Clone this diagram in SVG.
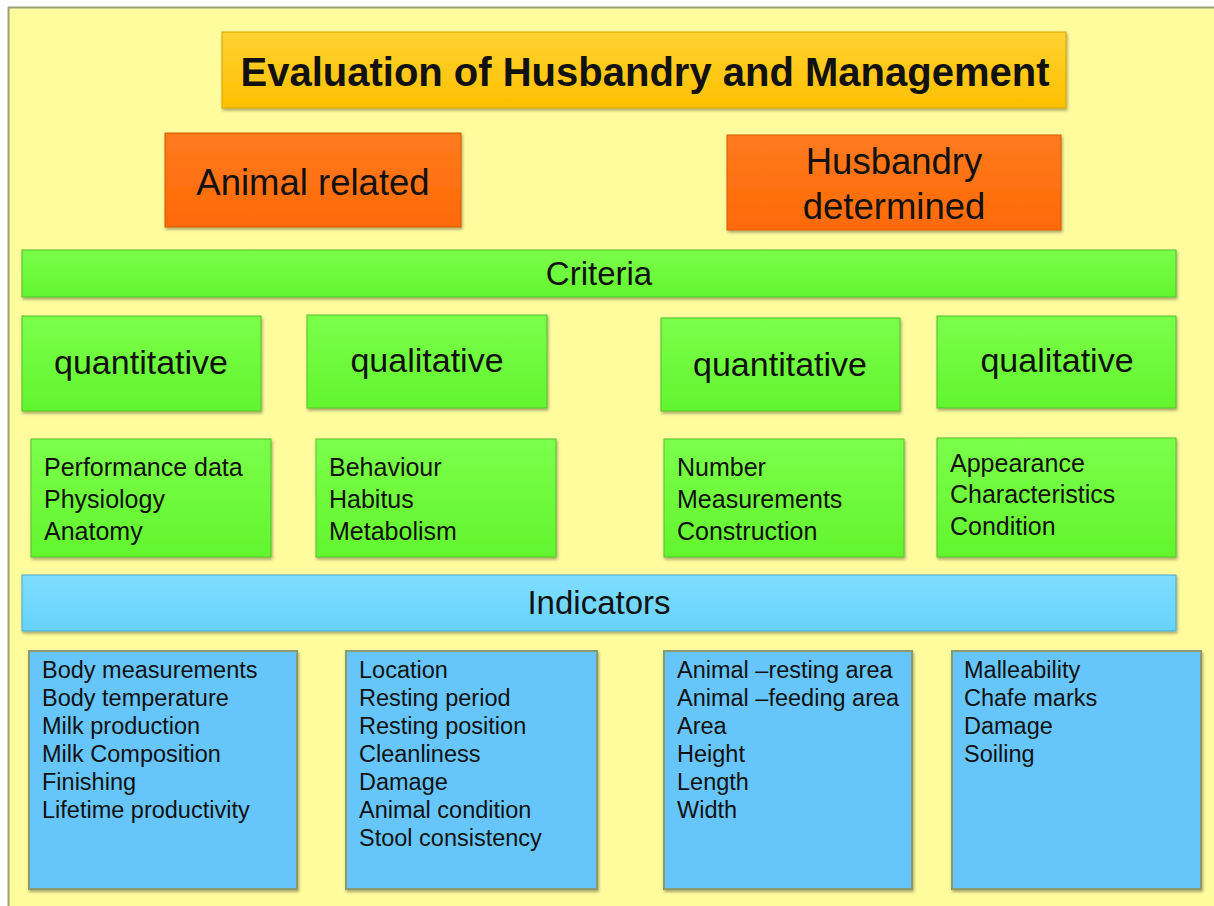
<svg xmlns="http://www.w3.org/2000/svg" width="1214" height="906" viewBox="0 0 1214 906">
<defs>
<linearGradient id="gGold" x1="0" y1="0" x2="0" y2="1"><stop offset="0" stop-color="#FFD233"/><stop offset="1" stop-color="#FFC000"/></linearGradient>
<linearGradient id="gOrange" x1="0" y1="0" x2="0" y2="1"><stop offset="0" stop-color="#FF7A1E"/><stop offset="1" stop-color="#FF6A08"/></linearGradient>
<linearGradient id="gGreen" x1="0" y1="0" x2="0" y2="1"><stop offset="0" stop-color="#7BFF4A"/><stop offset="1" stop-color="#62F52E"/></linearGradient>
<linearGradient id="gCyan" x1="0" y1="0" x2="0" y2="1"><stop offset="0" stop-color="#7FDDFF"/><stop offset="1" stop-color="#66D2FC"/></linearGradient>
<filter id="sh" x="-5%" y="-5%" width="110%" height="120%"><feDropShadow dx="1" dy="2" stdDeviation="1.5" flood-color="#000" flood-opacity="0.35"/></filter>
</defs>
<style>
text{font-family:"Liberation Sans",Arial,sans-serif;fill:#111;}
.title{font-size:40px;font-weight:bold;text-anchor:middle;}
.big{font-size:36.5px;text-anchor:middle;}
.bar{font-size:33px;text-anchor:middle;}
.cat{font-size:34px;text-anchor:middle;}
.item{font-size:25px;}
.ind{font-size:23.5px;}
.gold{fill:url(#gGold);stroke:#D9A300;stroke-width:1;filter:url(#sh);}
.orange{fill:url(#gOrange);stroke:#D65A00;stroke-width:1;filter:url(#sh);}
.green{fill:url(#gGreen);stroke:#55C02A;stroke-width:1;filter:url(#sh);}
.cyan{fill:url(#gCyan);stroke:#4FA8C8;stroke-width:1;filter:url(#sh);}
.blue{fill:#66C6FC;stroke:#8A9A6E;stroke-width:2;filter:url(#sh);}
</style>
<rect x="0" y="0" width="1214" height="906" fill="#FFFFFF"/>
<rect x="8" y="7" width="1206" height="899" fill="#FFFC9E"/>
<line x1="8" y1="7.5" x2="1214" y2="7.5" stroke="#9AA27A" stroke-width="2"/>
<line x1="8.5" y1="7" x2="8.5" y2="906" stroke="#9AA27A" stroke-width="2"/>
<g id="connectors"></g>
<g id="title"><rect class="gold" x="222" y="32" width="844" height="76"/><text class="title" x="645" y="86">Evaluation of Husbandry and Management</text></g>
<g id="animal-related"><rect class="orange" x="165" y="133" width="296" height="94"/><text class="big" x="313" y="195">Animal related</text></g>
<g id="husbandry-determined"><rect class="orange" x="727" y="135" width="334" height="95"/><text class="big" x="894" y="174">Husbandry</text><text class="big" x="894" y="219">determined</text></g>
<g id="criteria"><rect class="green" x="22" y="250" width="1154" height="47"/><text class="bar" x="599" y="285">Criteria</text></g>
<g id="quant1"><rect class="green" x="22" y="316" width="239" height="95"/><text class="cat" x="141" y="374">quantitative</text></g>
<g id="qual1"><rect class="green" x="307" y="315" width="240" height="93"/><text class="cat" x="427" y="372">qualitative</text></g>
<g id="quant2"><rect class="green" x="661" y="318" width="239" height="93"/><text class="cat" x="780" y="376">quantitative</text></g>
<g id="qual2"><rect class="green" x="937" y="316" width="239" height="92"/><text class="cat" x="1057" y="372">qualitative</text></g>
<g id="crit1"><rect class="green" x="31" y="439" width="240" height="118"/><text class="item" x="44" y="476">Performance data</text><text class="item" x="44" y="508">Physiology</text><text class="item" x="44" y="540">Anatomy</text></g>
<g id="crit2"><rect class="green" x="316" y="439" width="240" height="118"/><text class="item" x="329" y="476">Behaviour</text><text class="item" x="329" y="508">Habitus</text><text class="item" x="329" y="540">Metabolism</text></g>
<g id="crit3"><rect class="green" x="664" y="439" width="240" height="118"/><text class="item" x="677" y="476">Number</text><text class="item" x="677" y="508">Measurements</text><text class="item" x="677" y="540">Construction</text></g>
<g id="crit4"><rect class="green" x="937" y="438" width="239" height="119"/><text class="item" x="950" y="472">Appearance</text><text class="item" x="950" y="503">Characteristics</text><text class="item" x="950" y="535">Condition</text></g>
<g id="indicators"><rect class="cyan" x="22" y="575" width="1154" height="56"/><text class="bar" x="599" y="614">Indicators</text></g>
<g id="ind1"><rect class="blue" x="29" y="651" width="268" height="238"/><text class="ind" x="42" y="678">Body measurements</text><text class="ind" x="42" y="706">Body temperature</text><text class="ind" x="42" y="734">Milk production</text><text class="ind" x="42" y="762">Milk Composition</text><text class="ind" x="42" y="790">Finishing</text><text class="ind" x="42" y="818">Lifetime productivity</text></g>
<g id="ind2"><rect class="blue" x="346" y="651" width="251" height="238"/><text class="ind" x="359" y="678">Location</text><text class="ind" x="359" y="706">Resting period</text><text class="ind" x="359" y="734">Resting position</text><text class="ind" x="359" y="762">Cleanliness</text><text class="ind" x="359" y="790">Damage</text><text class="ind" x="359" y="818">Animal condition</text><text class="ind" x="359" y="846">Stool consistency</text></g>
<g id="ind3"><rect class="blue" x="664" y="651" width="248" height="238"/><text class="ind" x="677" y="678">Animal –resting area</text><text class="ind" x="677" y="706">Animal –feeding area</text><text class="ind" x="677" y="734">Area</text><text class="ind" x="677" y="762">Height</text><text class="ind" x="677" y="790">Length</text><text class="ind" x="677" y="818">Width</text></g>
<g id="ind4"><rect class="blue" x="952" y="651" width="249" height="238"/><text class="ind" x="964" y="678">Malleability</text><text class="ind" x="964" y="706">Chafe marks</text><text class="ind" x="964" y="734">Damage</text><text class="ind" x="964" y="762">Soiling</text></g>
</svg>
